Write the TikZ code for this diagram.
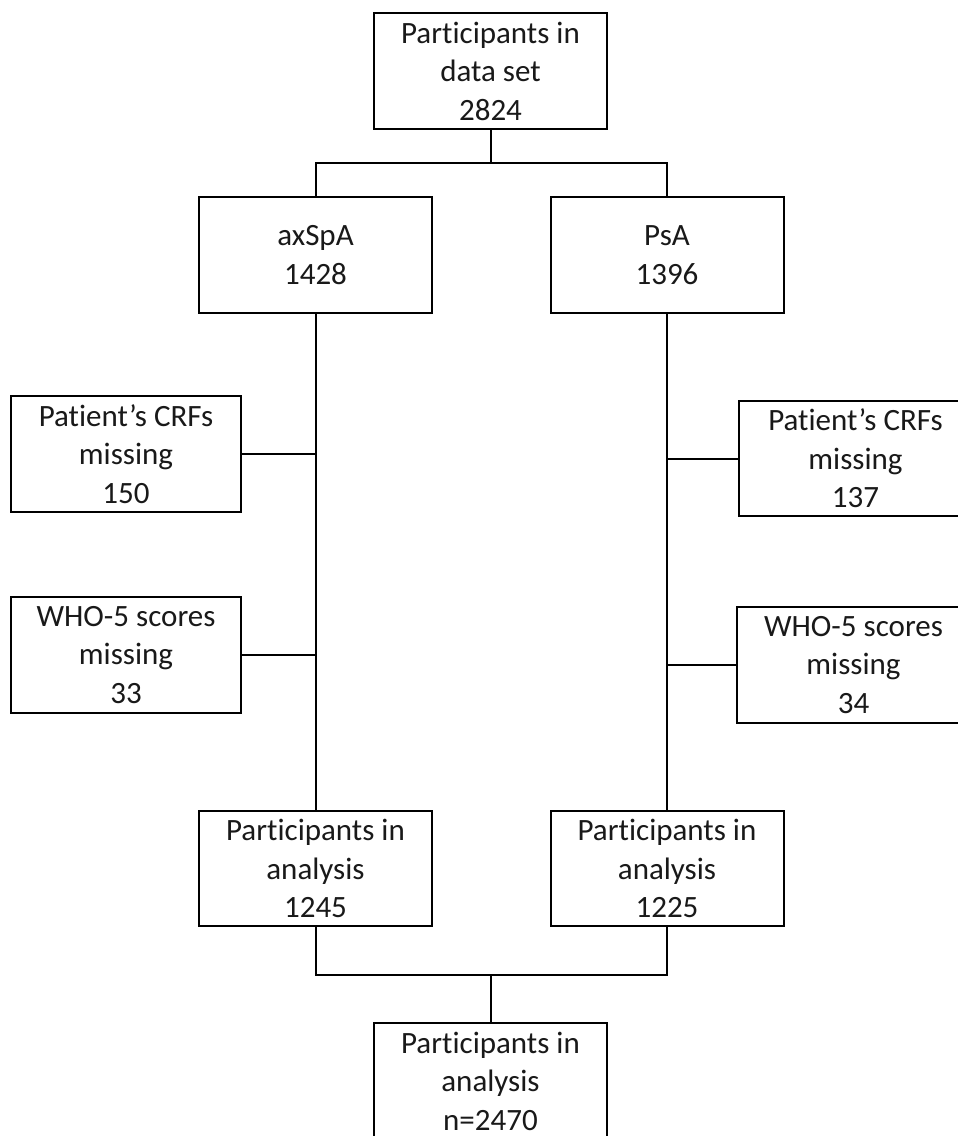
\documentclass[tikz,border=0pt]{standalone}
\usepackage{fontspec}
\setmainfont{Carlito}[Ligatures=NoCommon]
\begin{document}
\begin{tikzpicture}[x=1pt,y=-1pt,
  box/.style={draw=black,line width=2pt,fill=white,align=center,inner sep=0pt,
    font=\fontsize{31}{38.5}\selectfont,text=black!90},
  wide/.style={box,minimum width=233pt,minimum height=116pt},
  link/.style={draw=black,line width=2pt}]
\useasboundingbox (0,0) rectangle (958,1136);
\node[wide] (top) at (490.5,71) {Participants in\\data set\\2824};
\node[wide] (ax) at (315.5,255) {axSpA\\1428};
\node[wide] (ps) at (667,255) {PsA\\1396};
\node[box,minimum width=230pt,minimum height=116pt] (crfL) at (126,454) {Patient’s CRFs\\missing\\150};
\node[box,minimum width=233pt,minimum height=115pt] (crfR) at (855.5,458.5) {Patient’s CRFs\\missing\\137};
\node[box,minimum width=230pt,minimum height=116pt] (whoL) at (126,655) {WHO-5 scores\\missing\\33};
\node[box,minimum width=233pt,minimum height=116pt] (whoR) at (853.5,665) {WHO-5 scores\\missing\\34};
\node[wide,minimum height=115pt] (anL) at (315.5,868.5) {Participants in\\analysis\\1245};
\node[wide,minimum height=115pt] (anR) at (667,868.5) {Participants in\\analysis\\1225};
\node[wide] (bot) at (490.5,1081) {Participants in\\analysis\\n=2470};
\coordinate (j1) at (490.5,163);
\coordinate (j2) at (490.5,975);
\draw[link] (top.south) -- (j1);
\draw[link] (ax.north) |- (j1) -| (ps.north);
\draw[link] (ax.south) -- (anL.north);
\draw[link] (ps.south) -- (anR.north);
\draw[link] (crfL.east) -- (crfL.east -| ax.south);
\draw[link] (whoL.east) -- (whoL.east -| ax.south);
\draw[link] (crfR.west) -- (crfR.west -| ps.south);
\draw[link] (whoR.west) -- (whoR.west -| ps.south);
\draw[link] (anL.south) |- (j2) -| (anR.south);
\draw[link] (j2) -- (bot.north);
\end{tikzpicture}
\end{document}
